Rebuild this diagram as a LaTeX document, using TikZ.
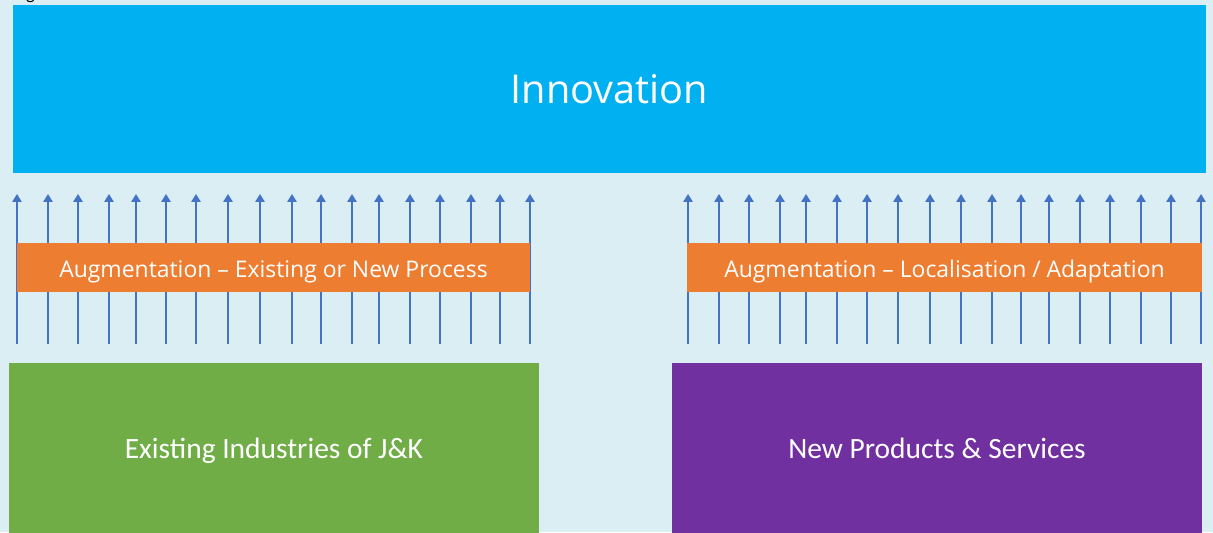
\documentclass[tikz,border=0pt]{standalone}
\usepackage{fontspec}
\setmainfont{Carlito}
\newfontfamily\opensans{Open Sans}
\usepackage{tikz}
\usetikzlibrary{arrows.meta}

\definecolor{bgblue}{HTML}{DAEEF3}
\definecolor{innovblue}{HTML}{00B0F0}
\definecolor{augorange}{HTML}{ED7D31}
\definecolor{exgreen}{HTML}{70AD47}
\definecolor{newpurple}{HTML}{7030A0}
\definecolor{arrowblue}{HTML}{4472C4}

\begin{document}
\begin{tikzpicture}[x=0.5669pt, y=-0.5669pt,
        blockbox/.style={inner sep=0pt, text=white, anchor=center, text depth=0pt},
        upline/.style={arrowblue, line width=0.85pt, -{Triangle[width=5.3pt, length=4.5pt]}}]
        \fill[bgblue] (0,0) rectangle (1213,532);
        \useasboundingbox (0,0) rectangle (1213,532);
        \begin{scope}
            \clip (0,0) rectangle (1213,532);
            \node[anchor=base west, inner sep=0pt, font=\fontsize{10.5}{12}\selectfont] (caption) at (13,0) {Figure 1: Innovation Model};
        \end{scope}
        \foreach \x [count=\i] in {17,48,78,109,136,166,196,228,260,292,321,352,379,410,440,471,500,530} {
            \coordinate (lfoot\i) at (\x,344);
            \coordinate (ltip\i) at (\x,194);
            \draw[upline] (lfoot\i) -- (ltip\i);
        }
        \foreach \x [count=\i] in {688,719,749,780,806,837,867,898,930,961,992,1021,1049,1080,1110,1141,1171,1201} {
            \coordinate (rfoot\i) at (\x,344);
            \coordinate (rtip\i) at (\x,194);
            \draw[upline] (rfoot\i) -- (rtip\i);
        }
        \node[blockbox, fill=innovblue, minimum width=676.3pt, minimum height=95.2pt, text height=16.1pt, font=\opensans\fontsize{22.5}{27}\selectfont] (innov) at (609.5,89) {Innovation};
        \node[blockbox, fill=augorange, minimum width=290.8pt, minimum height=27.8pt, text height=11.6pt, font=\opensans\fontsize{13}{15}\selectfont] (augleft) at (273.5,267.5) {Augmentation – Existing or New Process};
        \node[blockbox, fill=augorange, minimum width=292pt, minimum height=27.8pt, text height=11.6pt, font=\opensans\fontsize{13}{15}\selectfont] (augright) at (944.5,267.5) {Augmentation – Localisation / Adaptation};
        \node[blockbox, fill=exgreen, minimum width=300.5pt, minimum height=97.5pt, text height=10.75pt, font=\fontsize{16.7}{20}\selectfont] (existing) at (274,449) {Existing Industries of J\&K};
        \node[blockbox, fill=newpurple, minimum width=300.5pt, minimum height=97.5pt, text height=10.75pt, font=\fontsize{16.7}{20}\selectfont] (newprod) at (937,449) {New Products \& Services};
    \end{tikzpicture}
\end{document}
